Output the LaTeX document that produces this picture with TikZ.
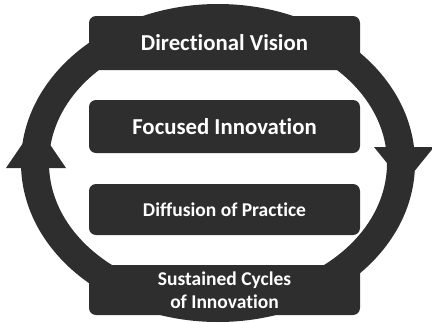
\documentclass[tikz,border=0pt]{standalone}
\usepackage{fontspec}
\setmainfont{Carlito}[RawFeature=-liga]
\definecolor{ringgray}{HTML}{2E2E2E}

\begin{document}
\begin{tikzpicture}[x=1pt,y=-1pt,
  box/.style={fill=ringgray,rounded corners=7pt,minimum width=271pt,
    text=white,align=center,inner sep=0pt},
  bigtext/.style={font=\bfseries\fontsize{22.8}{27}\selectfont},
  smalltext/.style={font=\bfseries\fontsize{19.5}{23}\selectfont}]
\useasboundingbox (0,0) rectangle (432,322);
\coordinate (O) at (218,163);

% ring with its two heads
\fill[ringgray,even odd rule] (O) ellipse [x radius=197pt,y radius=159pt]
  (O) ellipse [x radius=169pt,y radius=131pt];
\fill[ringgray] (6,168)--(66,168)--(36,124)--cycle;
\fill[ringgray] (374,147)--(434,147)--(404,184)--cycle;

\node[box,bigtext,minimum height=54pt] (vision) at (224.5,43) {Directional Vision};
\node[box,bigtext,minimum height=53pt] (focus) at (224.5,126.5) {Focused Innovation};
\node[box,smalltext,minimum height=51pt] (diffusion) at (224.5,209.5) {Diffusion of Practice};
\node[box,smalltext,minimum height=50pt] (cycles) at (224.5,290) {Sustained Cycles\\of Innovation};

\end{tikzpicture}
\end{document}
